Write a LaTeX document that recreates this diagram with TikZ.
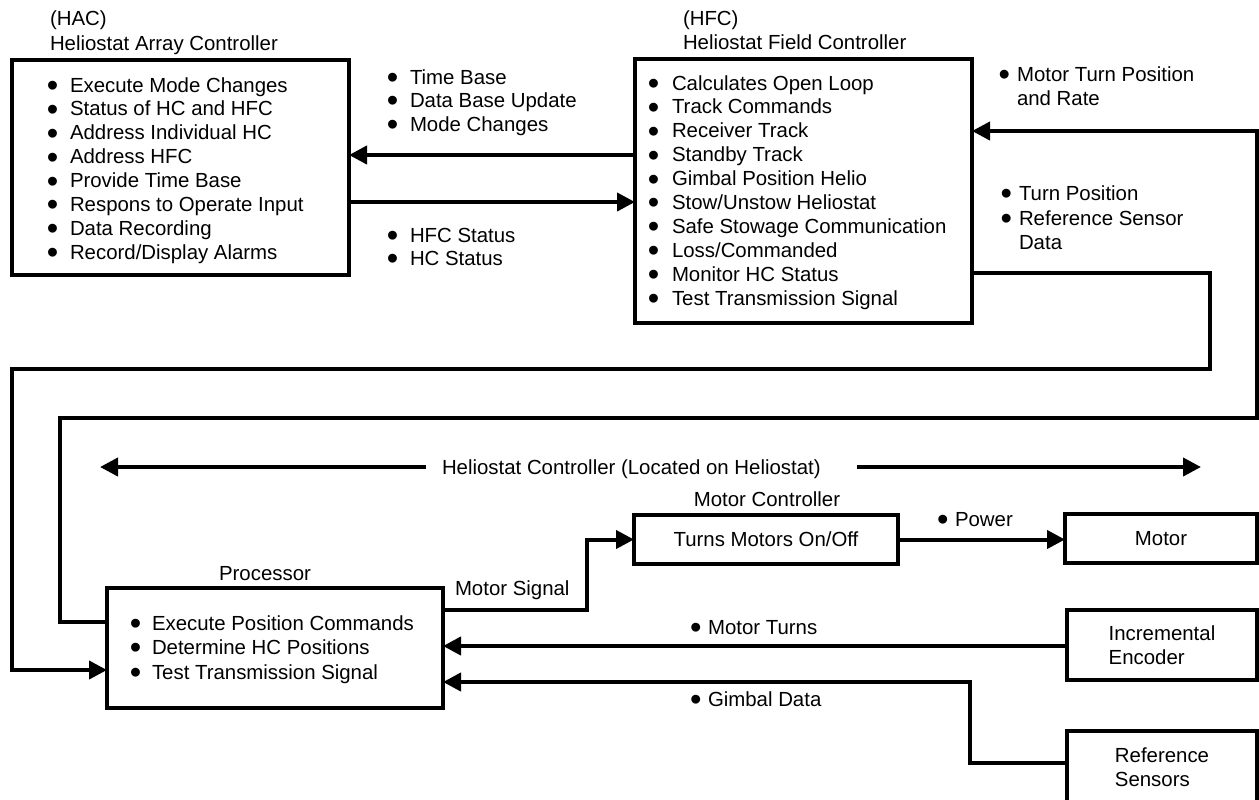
\documentclass[tikz,border=0pt]{standalone}
\usepackage{fontspec}
\setmainfont{Liberation Sans}
\usetikzlibrary{arrows.meta,fit}
\newcommand\bul{\raisebox{-2.2pt}[5.6pt][0pt]{\scalebox{1.6}{\textbullet}}}
\newcommand\bl[1]{\llap{\bul\hspace{#1}}}
\begin{document}
\begin{tikzpicture}[x=0.5pt,y=-0.5pt,
  every node/.style={inner sep=0pt, outer sep=0pt, font=\fontsize{10.2}{12}\selectfont},
  item/.style={anchor=base west},
  boxc/.style={draw, line width=1.6pt},
  conn/.style={line width=2pt},
  arr/.style={conn, -{Triangle[length=9pt,width=9pt]}}]
\useasboundingbox (0,0) rectangle (1259,799);

% ---------- HAC ----------
\node[item] (hacA) at (50,25) {(HAC)};
\node[item] (hacB) at (50,50) {Heliostat Array Controller};
\coordinate (hacNW) at (12,60);
\coordinate (hacSE) at (349,275);
\node[boxc, fit=(hacNW)(hacSE)] (hac) {};
\foreach \t [count=\i] in {Execute Mode Changes, Status of HC and HFC, Address Individual HC, Address HFC, Provide Time Base, Respons to Operate Input, Data Recording, Record/Display Alarms}
  \node[item] (hac\i) at (70,{92+23.9*(\i-1)}) {\bl{5.8pt}\t};

% ---------- HFC ----------
\node[item] (hfcA) at (683,25) {(HFC)};
\node[item] (hfcB) at (683,49) {Heliostat Field Controller};
\coordinate (hfcNW) at (635,59);
\coordinate (hfcSE) at (972,323);
\node[boxc, fit=(hfcNW)(hfcSE)] (hfc) {};
\foreach \t [count=\i] in {Calculates Open Loop, Track Commands, Receiver Track, Standby Track, Gimbal Position Helio, Stow/Unstow Heliostat, Safe Stowage Communication, Loss/Commanded, Monitor HC Status, Test Transmission Signal}
  \node[item] (hfc\i) at (672,{90+23.9*(\i-1)}) {\bl{6.3pt}\t};

% ---------- labels between HAC and HFC ----------
\node[item] (lt1) at (410,84) {\bl{5.8pt}Time Base};
\node[item] (lt2) at (410,107) {\bl{5.8pt}Data Base Update};
\node[item] (lt3) at (410,131) {\bl{5.8pt}Mode Changes};
\node[item] (lb1) at (410,242) {\bl{5.8pt}HFC Status};
\node[item] (lb2) at (410,265) {\bl{5.8pt}HC Status};

\draw[arr] (hfc.west |- 0,155) -- (hac.east |- 0,155);
\draw[arr] (hac.east |- 0,202) -- (hfc.west |- 0,202);

% ---------- right labels ----------
\node[item] (rm1) at (1017,81) {\bl{3.5pt}Motor Turn Position};
\node[item] (rm2) at (1017,105) {and Rate};
\node[item] (rt1) at (1019,200) {\bl{3.5pt}Turn Position};
\node[item] (rt2) at (1019,225) {\bl{3.5pt}Reference Sensor};
\node[item] (rt3) at (1019,249) {Data};

% ---------- Heliostat controller span ----------
\node[item] (hct) at (442,474) {Heliostat Controller (Located on Heliostat)};
\coordinate (hcl) at (100,467);
\coordinate (hcl2) at (426,467);
\coordinate (hcr1) at (857,467);
\coordinate (hcr) at (1201,467);
\draw[arr] (hcl2) -- (hcl);
\draw[arr] (hcr1) -- (hcr);

% ---------- Processor ----------
\node[anchor=base] (procT) at (265,580) {Processor};
\coordinate (prNW) at (107,588);
\coordinate (prSE) at (443,708);
\node[boxc, fit=(prNW)(prSE)] (proc) {};
\node[item] (pr1) at (152,630) {\bl{5.3pt}Execute Position Commands};
\node[item] (pr2) at (152,654) {\bl{5.3pt}Determine HC Positions};
\node[item] (pr3) at (152,679) {\bl{5.3pt}Test Transmission Signal};

% ---------- Motor controller, motor ----------
\node[anchor=base] (mcT) at (767,506) {Motor Controller};
\node[boxc, minimum width=132pt, minimum height=24.5pt] (mc) at (766,539.5) {Turns Motors On/Off};
\node[boxc, minimum width=96pt, minimum height=24.5pt] (motor) at (1161,538.5) {Motor};
\node[item] (pw) at (955,526) {\bl{3.2pt}Power};
\draw[arr] (mc.east) -- (mc.east -| motor.west);

\node[item] (ms) at (455,595) {Motor Signal};
\draw[arr] (proc.east |- 0,610) -- (587,610) |- (mc.west);

% ---------- Encoder, reference sensors ----------
\node[boxc, minimum width=95pt, minimum height=35pt, align=left] (enc) at (1162,645) {Incremental\\Encoder};
\node[boxc, minimum width=95pt, minimum height=36.5pt, align=left] (ref) at (1162,767.5) {Reference\\Sensors};
\node[item] (mt) at (708,634) {\bl{3.2pt}Motor Turns};
\node[item] (gd) at (708,706) {\bl{3.2pt}Gimbal Data};
\draw[arr] (enc.west |- 0,646) -- (proc.east |- 0,646);
\draw[arr] (ref.west |- 0,763) -- (970,763) -- (970,682) -- (proc.east |- 0,682);

% ---------- feedback loops ----------
\draw[arr] (hfc.east |- 0,273) -- (1210,273) -- (1210,369) -- (12,369) -- (12,670) -- (proc.west |- 0,670);
\draw[arr] (proc.west |- 0,622) -- (60,622) -- (60,418) -- (1257,418) -- (1257,131) -- (hfc.east |- 0,131);
\end{tikzpicture}
\end{document}
